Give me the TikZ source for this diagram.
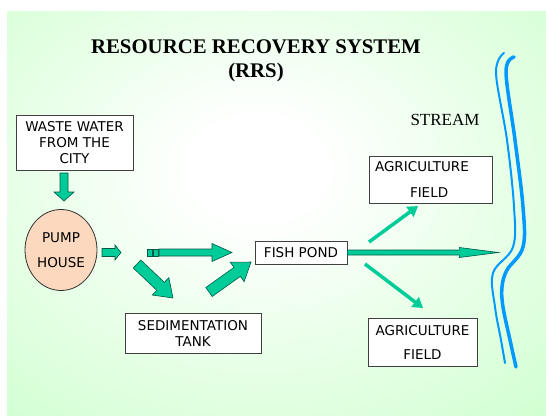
\documentclass[tikz,border=0pt]{standalone}
\usepackage{fontspec}
\newfontfamily\boxfont{DejaVu Sans}
\newfontfamily\serfont{Liberation Serif}
\usetikzlibrary{shapes.geometric,arrows.meta}
\definecolor{bggreen}{RGB}{204,255,204}
\definecolor{teal1}{RGB}{0,204,153}
\definecolor{tealdark}{RGB}{0,90,70}
\definecolor{peach}{RGB}{252,216,190}
\definecolor{streamblue}{RGB}{0,153,255}
\pgfdeclareradialshading{bgrad}{\pgfpoint{-2bp}{6bp}}{color(0bp)=(white); color(6bp)=(white); color(42bp)=(bggreen); color(80bp)=(bggreen)}
\tikzset{
  blk/.style={fill=teal1, draw=tealdark, line width=0.6pt, line join=miter},
  pics/blockarrow/.style n args={4}{code={
    \path[blk] (0,-#2/2) -- ({#1-#4},-#2/2) -- ({#1-#4},-#3/2) -- (#1,0) -- ({#1-#4},#3/2) -- ({#1-#4},#2/2) -- (0,#2/2) -- cycle;}},
  box/.style={draw=black!75, fill=white, line width=0.8pt, inner sep=0pt, align=center,
    font=\boxfont\fontsize{13.5}{16}\selectfont},
  lin/.style={draw=teal1, line width=3.5pt, -{Triangle[length=10pt,width=12pt]}},
  river/.style={draw=streamblue, line cap=round, line join=round},
}
\begin{document}
\begin{tikzpicture}[x=1pt,y=-1pt]
\useasboundingbox (0,0) rectangle (546,415);
\fill[white] (0,0) rectangle (546,415);
\shade[shading=bgrad] (7,11) rectangle (546,415);

% title
\node[font=\serfont\bfseries\fontsize{20.8}{25}\selectfont] (title) at (256,47) {RESOURCE RECOVERY SYSTEM};
\node[font=\serfont\bfseries\fontsize{20.8}{25}\selectfont] (rrs) at (256,72) {(RRS)};
\node[font=\serfont\fontsize{17}{20}\selectfont] (stream) at (445,120) {STREAM};

% boxes
\node[box, minimum width=117pt, minimum height=55pt] (ww) at (74.5,142.5) {WASTE WATER\\FROM THE\\CITY};
\node[ellipse, draw=black!80, fill=peach, line width=0.8pt, minimum width=72pt, minimum height=81pt, inner sep=0pt, align=center,
  font=\boxfont\fontsize{13.5}{25}\selectfont] (pump) at (61,250) {PUMP\\HOUSE};
\node[box, minimum width=92pt, minimum height=23pt] (fp) at (301,252.5) {FISH POND};
\node[box, minimum width=136pt, minimum height=40pt] (sed) at (193,333) {SEDIMENTATION\\TANK};
\node[box, minimum width=123pt, minimum height=47pt, align=left, text width=111pt,
  font=\boxfont\fontsize{13.5}{26}\selectfont] (ag1) at (430.5,179.5) {AGRICULTURE\\\hspace*{35pt}FIELD};
\node[box, minimum width=109pt, minimum height=48pt,
  font=\boxfont\fontsize{13.5}{24}\selectfont] (ag2) at (422.5,342) {AGRICULTURE\\FIELD};

% block arrows
\pic[rotate=-90] at (64,173) {blockarrow={28}{8}{20}{9}};
\pic at (102,252.5) {blockarrow={19}{8}{15}{6}};
\path[blk] (147,249) rectangle (152,256);
\path[blk] (153,249) rectangle (158,256);
\pic at (159,252.5) {blockarrow={73}{7}{18}{20}};
\pic[rotate=-43.4] at (137,264) {blockarrow={49.5}{11}{24}{17}};
\pic[rotate=35.5] at (209,292) {blockarrow={51.6}{11}{24}{17}};
\pic at (fp.east) {blockarrow={151}{5}{10}{39}};

% line arrows to the fields
\coordinate (u1) at (369,242);
\coordinate (u2) at (418,206);
\coordinate (d1) at (365,264);
\coordinate (d2) at (423,308);
\draw[lin] (u1) -- (u2);
\draw[lin] (d1) -- (d2);

% stream
\draw[river, line width=2pt] plot[smooth, tension=0.6] coordinates {(504,53) (496,73) (507,140) (514,207) (513,247) (493,273) (495,307) (501,340) (505,363)};
\draw[river, line width=3.5pt] plot[smooth, tension=0.6] coordinates {(514,57) (506,72) (515,140) (523,207) (523,247) (507,270) (502,287) (503,307) (510,340) (516,367)};
\end{tikzpicture}
\end{document}
